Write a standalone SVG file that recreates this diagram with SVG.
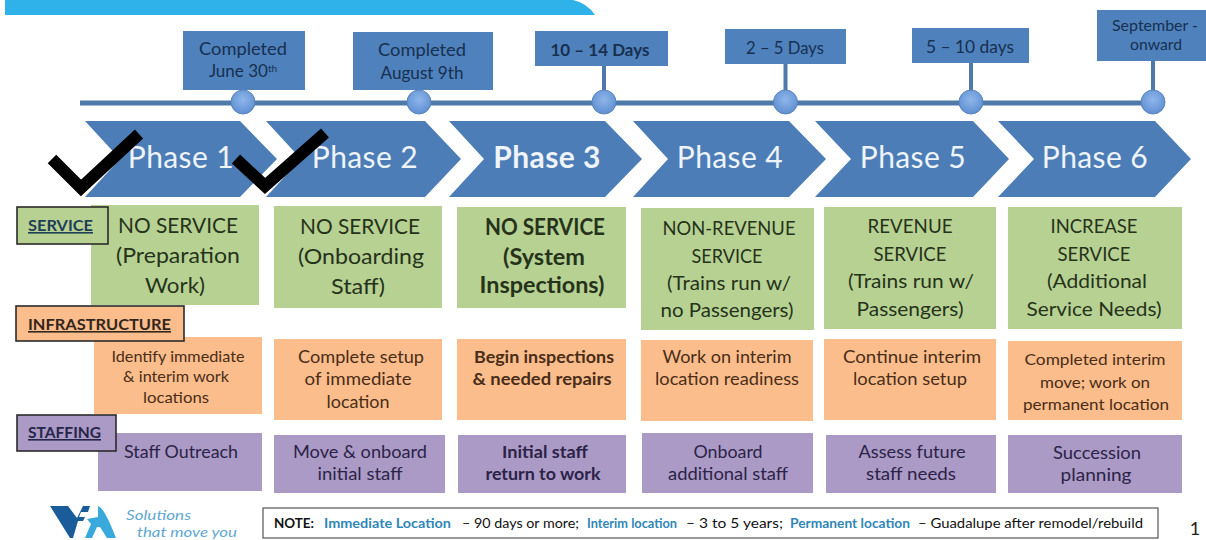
<svg xmlns="http://www.w3.org/2000/svg" width="1206" height="540" viewBox="0 0 1206 540">
<defs>
<radialGradient id="dotFill" cx="50%" cy="40%" r="60%"><stop offset="0" stop-color="#8fb6ea"/><stop offset="1" stop-color="#5f8fd2"/></radialGradient>
<style>
text{font-family:"Lato","Liberation Sans",sans-serif;text-anchor:middle}
.box{fill:#4f81bd}
.dt{fill:#17304f;font-size:17px}
.chev{fill:#4c7db6}
.ph{fill:#eef4fa;font-size:30px;letter-spacing:.4px}
.g{fill:#b7d193}.o{fill:#fbbd8c}.p{fill:#ab9ac5}
.gt{fill:#26331a;font-size:22px}
.gs{fill:#26331a;font-size:20px}
.ot{fill:#4a2d18;font-size:17px}
.pt{fill:#2b2348;font-size:17px}
.b{font-weight:700}
.lab{stroke:#2b2b2b;stroke-width:1.6}
.lt{font-size:16px;font-weight:700;text-decoration:underline;text-anchor:start}
.dot{fill:url(#dotFill);stroke:#5a86bb;stroke-width:1}
.chk{fill:none;stroke:#000;stroke-width:12}
.n{font-size:14px;text-anchor:start;fill:#111}
.nb{fill:#2f86b8;font-weight:700}
.lg{text-anchor:start;font-size:13.500px;font-style:italic;fill:#5fa8d3}
</style>
</defs>
<rect width="1206" height="540" fill="#fff"/>
<path id="banner" d="M5 0H573Q587 3 595 15H5Z" fill="#2fb2ea"/>
<g id="connectors" stroke="#4d7aa8" fill="none">
<path d="M80 103H1153" stroke-width="5"/>
<path d="M604 66V95M785.500 64V95M971 63V95M1153 61V95" stroke-width="4"/>
</g>
<g id="date1"><rect class="box" x="183" y="31" width="122" height="59"/><text class="dt" x="243" y="55" textLength="88" lengthAdjust="spacingAndGlyphs">Completed</text><text class="dt" x="243" y="77">June 30<tspan font-size="10" dy="-5">th</tspan></text><circle class="dot" cx="243" cy="102" r="12"/></g>
<g id="date2"><rect class="box" x="353" y="32" width="140" height="58"/><text class="dt" x="422" y="56" textLength="88" lengthAdjust="spacingAndGlyphs">Completed</text><text class="dt" x="422" y="79" textLength="83" lengthAdjust="spacingAndGlyphs">August 9th</text><circle class="dot" cx="419" cy="102" r="12"/></g>
<g id="date3"><rect class="box" x="535" y="31" width="133" height="35"/><text class="dt b" x="600" y="56" textLength="99" lengthAdjust="spacingAndGlyphs">10 – 14 Days</text><circle class="dot" cx="604" cy="102" r="12"/></g>
<g id="date4"><rect class="box" x="725" y="29" width="121" height="35"/><text class="dt" x="785" y="54" textLength="78" lengthAdjust="spacingAndGlyphs">2 – 5 Days</text><circle class="dot" cx="785.500" cy="102" r="12"/></g>
<g id="date5"><rect class="box" x="912" y="28" width="117" height="35"/><text class="dt" x="970" y="53" textLength="88" lengthAdjust="spacingAndGlyphs">5 – 10 days</text><circle class="dot" cx="971" cy="102" r="12"/></g>
<g id="date6"><rect class="box" x="1097" y="10" width="109" height="51"/><text class="dt" x="1155" y="31" style="font-size:15px" textLength="86" lengthAdjust="spacingAndGlyphs">September  -</text><text class="dt" x="1156" y="50" style="font-size:15px" textLength="52" lengthAdjust="spacingAndGlyphs">onward</text><circle class="dot" cx="1153" cy="102" r="12"/></g>

<g id="phase1"><path class="chev" d="M85 121H240L277 159L240 197H85L120 159Z"/><text class="ph" x="181" y="168">Phase 1</text></g>
<g id="phase2"><path class="chev" d="M266 121H425L461 159L425 197H266L301 159Z"/><text class="ph" x="365" y="168">Phase 2</text></g>
<g id="phase3"><path class="chev" d="M449 121H605L642 159L605 197H449L484 159Z"/><text class="ph b" x="547" y="168">Phase 3</text></g>
<g id="phase4"><path class="chev" d="M633 121H789L826 159L789 197H633L668 159Z"/><text class="ph" x="730" y="168">Phase 4</text></g>
<g id="phase5"><path class="chev" d="M815 121H973L1009 159L973 197H815L851 159Z"/><text class="ph" x="913" y="168">Phase 5</text></g>
<g id="phase6"><path class="chev" d="M998 121H1155L1191 159L1155 197H998L1034 159Z"/><text class="ph" x="1095" y="168">Phase 6</text></g>

<polyline class="chk" points="52,159 81,188 139,134"/>
<polyline class="chk" points="236,159 265,186 325,133"/>

<g id="service1"><rect class="g" x="91" y="205" width="168" height="100"/><text class="gt" x="178" y="233" textLength="120" lengthAdjust="spacingAndGlyphs">NO SERVICE</text><text class="gt" x="178" y="263" textLength="124" lengthAdjust="spacingAndGlyphs">(Preparation</text><text class="gt" x="175" y="293" textLength="60" lengthAdjust="spacingAndGlyphs">Work)</text></g>
<g id="service2"><rect class="g" x="274" y="206" width="168" height="102"/><text class="gt" x="360" y="234" textLength="120" lengthAdjust="spacingAndGlyphs">NO SERVICE</text><text class="gt" x="361" y="264" textLength="126" lengthAdjust="spacingAndGlyphs">(Onboarding</text><text class="gt" x="358" y="294" textLength="54" lengthAdjust="spacingAndGlyphs">Staff)</text></g>
<g id="service3"><rect class="g" x="457" y="207" width="169" height="101"/><text class="gt b" x="545" y="235" textLength="120" lengthAdjust="spacingAndGlyphs">NO SERVICE</text><text class="gt b" x="544" y="265" textLength="82" lengthAdjust="spacingAndGlyphs">(System</text><text class="gt b" x="542" y="293" textLength="125" lengthAdjust="spacingAndGlyphs">Inspections)</text></g>
<g id="service4"><rect class="g" x="641" y="208" width="173" height="122"/><text class="gs" x="729" y="235" textLength="133" lengthAdjust="spacingAndGlyphs">NON-REVENUE</text><text class="gs" x="727" y="263" textLength="71" lengthAdjust="spacingAndGlyphs">SERVICE</text><text class="gs" x="729" y="290" textLength="124" lengthAdjust="spacingAndGlyphs">(Trains run w/</text><text class="gs" x="727" y="317" textLength="133" lengthAdjust="spacingAndGlyphs">no Passengers)</text></g>
<g id="service5"><rect class="g" x="824" y="207" width="172" height="122"/><text class="gs" x="910" y="233" textLength="85" lengthAdjust="spacingAndGlyphs">REVENUE</text><text class="gs" x="910" y="261" textLength="73" lengthAdjust="spacingAndGlyphs">SERVICE</text><text class="gs" x="911" y="288" textLength="126" lengthAdjust="spacingAndGlyphs">(Trains run w/</text><text class="gs" x="910" y="316" textLength="107" lengthAdjust="spacingAndGlyphs">Passengers)</text></g>
<g id="service6"><rect class="g" x="1008" y="207" width="174" height="122"/><text class="gs" x="1094" y="233" textLength="87" lengthAdjust="spacingAndGlyphs">INCREASE</text><text class="gs" x="1094" y="261" textLength="73" lengthAdjust="spacingAndGlyphs">SERVICE</text><text class="gs" x="1097" y="288" textLength="100" lengthAdjust="spacingAndGlyphs">(Additional</text><text class="gs" x="1094" y="316" textLength="135" lengthAdjust="spacingAndGlyphs">Service Needs)</text></g>

<g id="infra1"><rect class="o" x="94" y="337" width="168" height="77"/><text class="ot" x="178" y="362" style="font-size:15px" textLength="133" lengthAdjust="spacingAndGlyphs">Identify immediate</text><text class="ot" x="176" y="382" style="font-size:15px" textLength="106" lengthAdjust="spacingAndGlyphs">&amp; interim work</text><text class="ot" x="176" y="403" style="font-size:15px" textLength="66" lengthAdjust="spacingAndGlyphs">locations</text></g>
<g id="infra2"><rect class="o" x="274" y="339" width="168" height="81"/><text class="ot" x="361" y="363" textLength="126" lengthAdjust="spacingAndGlyphs">Complete setup</text><text class="ot" x="358" y="385" textLength="107" lengthAdjust="spacingAndGlyphs">of immediate</text><text class="ot" x="358" y="408" textLength="63" lengthAdjust="spacingAndGlyphs">location</text></g>
<g id="infra3"><rect class="o" x="457" y="339" width="169" height="81"/><text class="ot b" x="544" y="363" textLength="140" lengthAdjust="spacingAndGlyphs">Begin inspections</text><text class="ot b" x="542" y="385" textLength="139" lengthAdjust="spacingAndGlyphs">&amp; needed repairs</text></g>
<g id="infra4"><rect class="o" x="641" y="340" width="172" height="81"/><text class="ot" x="727" y="363" textLength="129" lengthAdjust="spacingAndGlyphs">Work on interim</text><text class="ot" x="727" y="385" textLength="144" lengthAdjust="spacingAndGlyphs">location readiness</text></g>
<g id="infra5"><rect class="o" x="824" y="339" width="172" height="81"/><text class="ot" x="912" y="363" textLength="138" lengthAdjust="spacingAndGlyphs">Continue interim</text><text class="ot" x="910" y="385" textLength="114" lengthAdjust="spacingAndGlyphs">location setup</text></g>
<g id="infra6"><rect class="o" x="1008" y="341" width="174" height="79"/><text class="ot" x="1095" y="365" style="font-size:16px" textLength="141" lengthAdjust="spacingAndGlyphs">Completed interim</text><text class="ot" x="1095" y="388" style="font-size:16px" textLength="110" lengthAdjust="spacingAndGlyphs">move; work on</text><text class="ot" x="1096" y="410" style="font-size:16px" textLength="146" lengthAdjust="spacingAndGlyphs">permanent location</text></g>

<g id="staff1"><rect class="p" x="98" y="433" width="164" height="58"/><text class="pt" x="181" y="458" textLength="114" lengthAdjust="spacingAndGlyphs">Staff Outreach</text></g>
<g id="staff2"><rect class="p" x="274" y="435" width="171" height="58"/><text class="pt" x="360" y="458" textLength="134" lengthAdjust="spacingAndGlyphs">Move &amp; onboard</text><text class="pt" x="360" y="480" textLength="85" lengthAdjust="spacingAndGlyphs">initial staff</text></g>
<g id="staff3"><rect class="p" x="458" y="435" width="168" height="58"/><text class="pt b" x="545" y="458" textLength="86" lengthAdjust="spacingAndGlyphs">Initial staff</text><text class="pt b" x="543" y="480" textLength="115" lengthAdjust="spacingAndGlyphs">return to work</text></g>
<g id="staff4"><rect class="p" x="642" y="433" width="171" height="60"/><text class="pt" x="728" y="458" textLength="69" lengthAdjust="spacingAndGlyphs">Onboard</text><text class="pt" x="728" y="480" textLength="120" lengthAdjust="spacingAndGlyphs">additional staff</text></g>
<g id="staff5"><rect class="p" x="826" y="435" width="170" height="58"/><text class="pt" x="912" y="458" textLength="107" lengthAdjust="spacingAndGlyphs">Assess future</text><text class="pt" x="911" y="480" textLength="90" lengthAdjust="spacingAndGlyphs">staff needs</text></g>
<g id="staff6"><rect class="p" x="1008" y="435" width="174" height="58"/><text class="pt" x="1097" y="459" textLength="88" lengthAdjust="spacingAndGlyphs">Succession</text><text class="pt" x="1096" y="481" textLength="71" lengthAdjust="spacingAndGlyphs">planning</text></g>

<g id="label-service"><rect class="g lab" x="17" y="207" width="91" height="37"/><text class="lt" x="28" y="231" fill="#1f3f56" textLength="65" lengthAdjust="spacingAndGlyphs">SERVICE</text></g>
<g id="label-infrastructure"><rect class="o lab" x="16" y="306" width="168" height="35"/><text class="lt" x="28" y="330" fill="#33261d" textLength="143" lengthAdjust="spacingAndGlyphs">INFRASTRUCTURE</text></g>
<g id="label-staffing"><rect class="p lab" x="17" y="415" width="99" height="36"/><text class="lt" x="28" y="438" fill="#26264a" textLength="73" lengthAdjust="spacingAndGlyphs">STAFFING</text></g>

<g id="logo">
<path d="M50 506H68L77 518L83 506H90L88 512H81L79 517H85L83 521H78L73 538H70Z" fill="#1a5c9a"/>
<path d="M98 506Q104 507 116 538H107L100 527H97L92 538H85L91 524L87 519L98 517Z" fill="#39a9dc"/>
<text class="lg" x="126" y="520" textLength="65" lengthAdjust="spacingAndGlyphs">Solutions</text>
<text class="lg" x="137" y="537" textLength="100" lengthAdjust="spacingAndGlyphs">that move you</text>
</g>
<g id="note">
<rect x="263" y="508" width="895" height="30" fill="#fff" stroke="#555" stroke-width="1.200"/>
<text class="n b" x="274" y="528" textLength="40" lengthAdjust="spacingAndGlyphs">NOTE:</text>
<text class="n nb" x="324" y="528" textLength="127" lengthAdjust="spacingAndGlyphs">Immediate Location</text>
<text class="n" x="462" y="528" textLength="117" lengthAdjust="spacingAndGlyphs">– 90 days or more;</text>
<text class="n nb" x="587" y="528" textLength="90" lengthAdjust="spacingAndGlyphs">Interim location</text>
<text class="n" x="686" y="528" textLength="97" lengthAdjust="spacingAndGlyphs">– 3 to 5 years;</text>
<text class="n nb" x="790" y="528" textLength="120" lengthAdjust="spacingAndGlyphs">Permanent location</text>
<text class="n" x="918" y="528" textLength="225" lengthAdjust="spacingAndGlyphs">– Guadalupe after remodel/rebuild</text>
</g>
<text id="page" x="1195" y="535" style="font-size:18px;fill:#222">1</text>
</svg>
